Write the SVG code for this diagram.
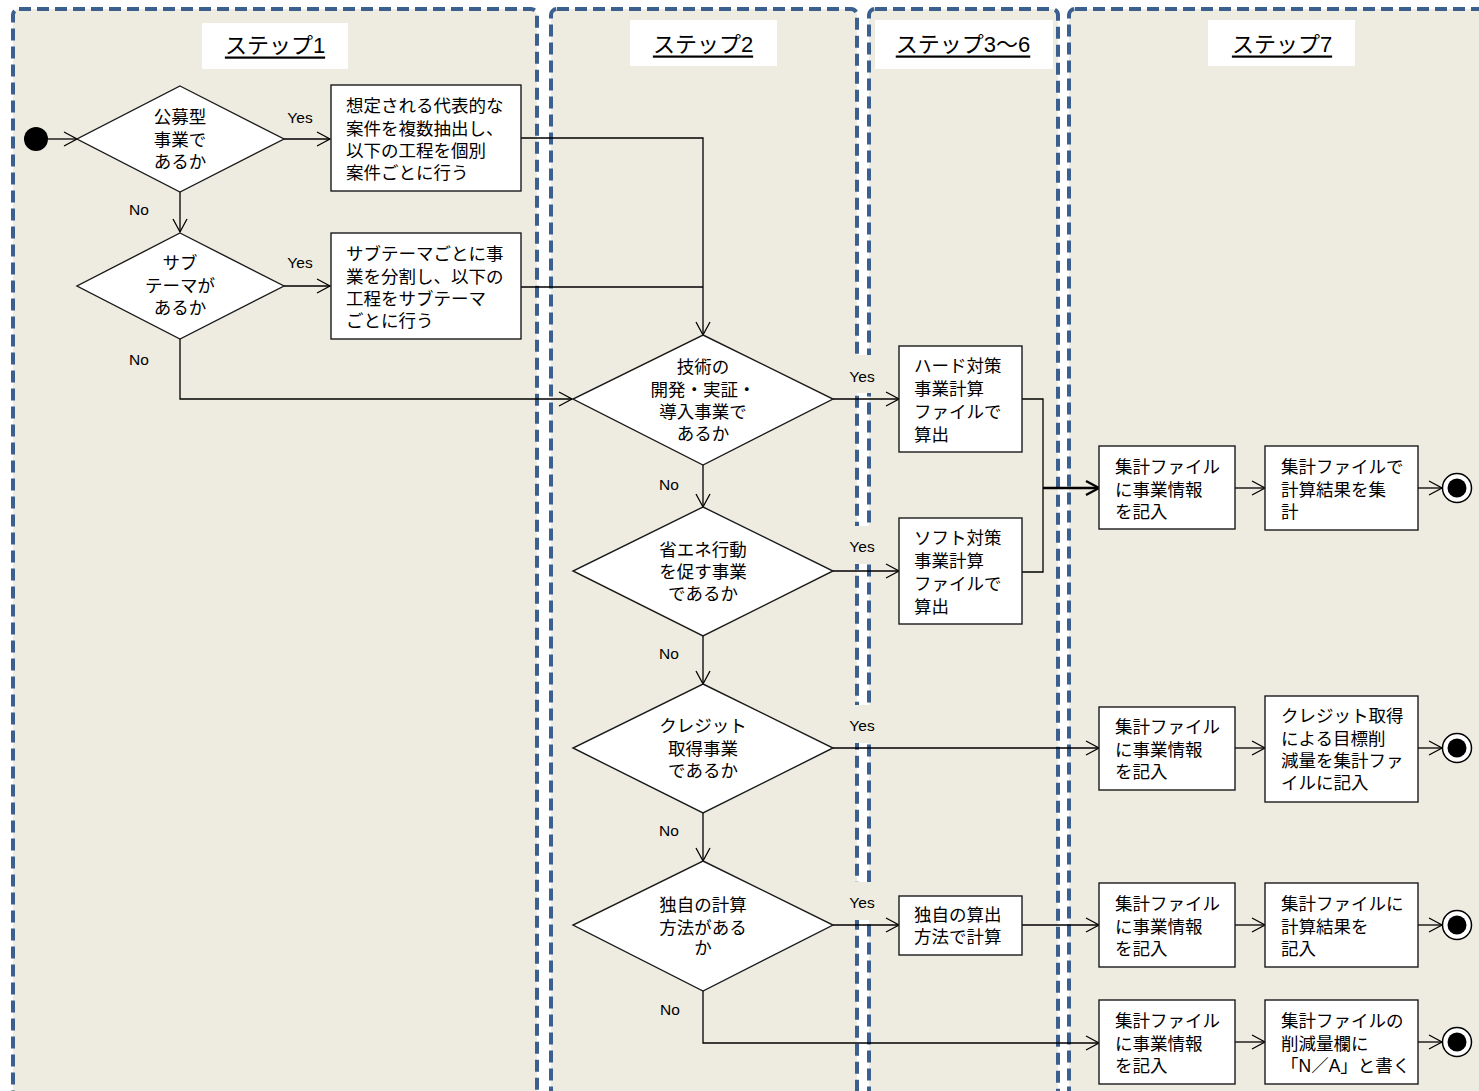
<svg xmlns="http://www.w3.org/2000/svg" width="1479" height="1091" viewBox="0 0 1479 1091">
  <defs>
    <style>
      .lane { fill:#EEECE1; stroke:#3B5F8F; stroke-width:4; stroke-dasharray:12 6; }
      .hdr { fill:#FFFFFF; }
      .ht { font-family:"Liberation Sans", "Noto Sans CJK JP", sans-serif; font-size:22px; fill:#000; text-anchor:middle; dominant-baseline:central; text-decoration:underline; }
      .node { fill:#FFFFFF; stroke:#1A1A1A; stroke-width:1.4; }
      .t { font-family:"Liberation Sans", "Noto Sans CJK JP", sans-serif; font-size:17.5px; fill:#000; dominant-baseline:central; }
      .m { text-anchor:middle; }
      .yn { font-family:"Liberation Sans", sans-serif; font-size:15.5px; fill:#000; text-anchor:middle; dominant-baseline:central; }
      .lbg { fill:#EEECE1; }
      .c { fill:none; stroke:#000; stroke-width:1.3; }
      .cb { fill:none; stroke:#000; stroke-width:2.4; }
    </style>
    <marker id="arr" viewBox="-2 -2 17 18" refX="13" refY="7" markerWidth="17" markerHeight="18" markerUnits="userSpaceOnUse" orient="auto">
      <path d="M0,0 L13,7 L0,14" fill="none" stroke="#000" stroke-width="1.3"/>
    </marker>
    <marker id="arrb" viewBox="-2 -2 17 18" refX="13" refY="7" markerWidth="17" markerHeight="18" markerUnits="userSpaceOnUse" orient="auto">
      <path d="M0,0 L13,7 L0,14" fill="none" stroke="#000" stroke-width="2.4"/>
    </marker>
  </defs>

  <rect x="0" y="0" width="1479" height="1091" fill="#FFFFFF"/>

  <g id="lanes">
    <rect class="lane" x="13" y="9" width="524" height="1110" rx="6"/>
    <rect class="lane" x="551" y="9" width="306" height="1110" rx="6"/>
    <rect class="lane" x="869" y="9" width="189" height="1110" rx="6"/>
    <rect class="lane" x="1069" y="9" width="450" height="1110" rx="6"/>
  </g>

  <g id="headers">
    <rect class="hdr" x="202" y="23" width="146" height="46"/>
    <text class="ht" x="275" y="45">ステップ1</text>
    <rect class="hdr" x="630" y="20" width="147" height="46"/>
    <text class="ht" x="703" y="44">ステップ2</text>
    <rect class="hdr" x="875" y="20" width="178" height="49"/>
    <text class="ht" x="963" y="44">ステップ3～6</text>
    <rect class="hdr" x="1208" y="20" width="147" height="46"/>
    <text class="ht" x="1282" y="44">ステップ7</text>
  </g>

  <g id="label-backgrounds">
    <rect class="lbg" x="843" y="355" width="38" height="38"/>
    <rect class="lbg" x="843" y="526" width="38" height="38"/>
    <rect class="lbg" x="843" y="705" width="38" height="38"/>
    <rect class="lbg" x="843" y="882" width="38" height="38"/>
  </g>

  <g id="connectors">
    <path class="c" d="M48,139 H77" marker-end="url(#arr)"/>
    <path class="c" d="M284,139 H330" marker-end="url(#arr)"/>
    <path class="c" d="M180,192 V232" marker-end="url(#arr)"/>
    <path class="c" d="M284,286 H330" marker-end="url(#arr)"/>
    <path class="c" d="M521,138 H703 V335" marker-end="url(#arr)"/>
    <path class="c" d="M521,287 H703"/>
    <path class="c" d="M180,339 V399 H572" marker-end="url(#arr)"/>
    <path class="c" d="M833,399 H899" marker-end="url(#arr)"/>
    <path class="c" d="M703,465 V507" marker-end="url(#arr)"/>
    <path class="c" d="M833,571 H899" marker-end="url(#arr)"/>
    <path class="c" d="M703,636 V684" marker-end="url(#arr)"/>
    <path class="c" d="M833,748 H1099" marker-end="url(#arr)"/>
    <path class="c" d="M703,813 V861" marker-end="url(#arr)"/>
    <path class="c" d="M833,925 H899" marker-end="url(#arr)"/>
    <path class="c" d="M703,991 V1043 H1099" marker-end="url(#arr)"/>
    <path class="c" d="M1022,399 H1043 V572 H1022"/>
    <path class="cb" d="M1043,488 H1099" marker-end="url(#arrb)"/>
    <path class="c" d="M1022,925 H1099" marker-end="url(#arr)"/>
    <path class="c" d="M1235,488 H1265" marker-end="url(#arr)"/>
    <path class="c" d="M1235,748 H1265" marker-end="url(#arr)"/>
    <path class="c" d="M1235,925 H1265" marker-end="url(#arr)"/>
    <path class="c" d="M1235,1042 H1265" marker-end="url(#arr)"/>
    <path class="c" d="M1418,488 H1442" marker-end="url(#arr)"/>
    <path class="c" d="M1418,748 H1442" marker-end="url(#arr)"/>
    <path class="c" d="M1418,925 H1442" marker-end="url(#arr)"/>
    <path class="c" d="M1418,1042 H1442" marker-end="url(#arr)"/>
  </g>

  <g id="start">
    <circle cx="36" cy="139" r="12" fill="#000"/>
  </g>

  <g id="d-koubo">
    <polygon class="node" points="180,86 284,139 180,192 77,139"/>
    <text class="t m" x="180" y="117">公募型</text>
    <text class="t m" x="180" y="140">事業で</text>
    <text class="t m" x="180" y="162">あるか</text>
  </g>

  <g id="b-daihyou">
    <rect class="node" x="331" y="85" width="190" height="106"/>
    <text class="t" x="346" y="106">想定される代表的な</text>
    <text class="t" x="346" y="129">案件を複数抽出し、</text>
    <text class="t" x="346" y="151">以下の工程を個別</text>
    <text class="t" x="346" y="173">案件ごとに行う</text>
  </g>

  <g id="d-subtheme">
    <polygon class="node" points="180,233 284,286 180,339 77,286"/>
    <text class="t m" x="180" y="263">サブ</text>
    <text class="t m" x="180" y="286">テーマが</text>
    <text class="t m" x="180" y="308">あるか</text>
  </g>

  <g id="b-subtheme">
    <rect class="node" x="331" y="233" width="190" height="106"/>
    <text class="t" x="346" y="254">サブテーマごとに事</text>
    <text class="t" x="346" y="277">業を分割し、以下の</text>
    <text class="t" x="346" y="299">工程をサブテーマ</text>
    <text class="t" x="346" y="321">ごとに行う</text>
  </g>

  <g id="d-gijutsu">
    <polygon class="node" points="703,335 833,399 703,465 573,399"/>
    <text class="t m" x="703" y="367">技術の</text>
    <text class="t m" x="703" y="390">開発・実証・</text>
    <text class="t m" x="703" y="412">導入事業で</text>
    <text class="t m" x="703" y="434">あるか</text>
  </g>

  <g id="d-shoene">
    <polygon class="node" points="703,507 833,571 703,636 573,571"/>
    <text class="t m" x="703" y="550">省エネ行動</text>
    <text class="t m" x="703" y="572">を促す事業</text>
    <text class="t m" x="703" y="594">であるか</text>
  </g>

  <g id="d-credit">
    <polygon class="node" points="703,684 833,748 703,813 573,748"/>
    <text class="t m" x="703" y="726">クレジット</text>
    <text class="t m" x="703" y="749">取得事業</text>
    <text class="t m" x="703" y="771">であるか</text>
  </g>

  <g id="d-dokuji">
    <polygon class="node" points="703,861 833,925 703,991 573,925"/>
    <text class="t m" x="703" y="905">独自の計算</text>
    <text class="t m" x="703" y="928">方法がある</text>
    <text class="t m" x="703" y="948">か</text>
  </g>

  <g id="b-hard">
    <rect class="node" x="899" y="346" width="123" height="106"/>
    <text class="t" x="914" y="366">ハード対策</text>
    <text class="t" x="914" y="389">事業計算</text>
    <text class="t" x="914" y="412">ファイルで</text>
    <text class="t" x="914" y="435">算出</text>
  </g>

  <g id="b-soft">
    <rect class="node" x="899" y="518" width="123" height="106"/>
    <text class="t" x="914" y="538">ソフト対策</text>
    <text class="t" x="914" y="561">事業計算</text>
    <text class="t" x="914" y="584">ファイルで</text>
    <text class="t" x="914" y="607">算出</text>
  </g>

  <g id="b-dokuji">
    <rect class="node" x="899" y="896" width="123" height="59"/>
    <text class="t" x="914" y="915">独自の算出</text>
    <text class="t" x="914" y="937">方法で計算</text>
  </g>

  <g id="b-kiroku1">
    <rect class="node" x="1099" y="446" width="136" height="83"/>
    <text class="t" x="1115" y="467">集計ファイル</text>
    <text class="t" x="1115" y="490">に事業情報</text>
    <text class="t" x="1115" y="512">を記入</text>
  </g>
  <g id="b-shukei1">
    <rect class="node" x="1265" y="446" width="153" height="84"/>
    <text class="t" x="1281" y="467">集計ファイルで</text>
    <text class="t" x="1281" y="490">計算結果を集</text>
    <text class="t" x="1281" y="512">計</text>
  </g>
  <g id="end1">
    <circle cx="1457" cy="488" r="14.5" fill="#FFF" stroke="#000" stroke-width="1.5"/>
    <circle cx="1457" cy="488" r="9.5" fill="#000"/>
  </g>

  <g id="b-kiroku2">
    <rect class="node" x="1099" y="707" width="136" height="83"/>
    <text class="t" x="1115" y="727">集計ファイル</text>
    <text class="t" x="1115" y="750">に事業情報</text>
    <text class="t" x="1115" y="772">を記入</text>
  </g>
  <g id="b-shukei2">
    <rect class="node" x="1265" y="696" width="153" height="106"/>
    <text class="t" x="1281" y="716">クレジット取得</text>
    <text class="t" x="1281" y="739">による目標削</text>
    <text class="t" x="1281" y="761">減量を集計ファ</text>
    <text class="t" x="1281" y="783">イルに記入</text>
  </g>
  <g id="end2">
    <circle cx="1457" cy="748" r="14.5" fill="#FFF" stroke="#000" stroke-width="1.5"/>
    <circle cx="1457" cy="748" r="9.5" fill="#000"/>
  </g>

  <g id="b-kiroku3">
    <rect class="node" x="1099" y="883" width="136" height="84"/>
    <text class="t" x="1115" y="904">集計ファイル</text>
    <text class="t" x="1115" y="927">に事業情報</text>
    <text class="t" x="1115" y="949">を記入</text>
  </g>
  <g id="b-shukei3">
    <rect class="node" x="1265" y="883" width="153" height="84"/>
    <text class="t" x="1281" y="904">集計ファイルに</text>
    <text class="t" x="1281" y="927">計算結果を</text>
    <text class="t" x="1281" y="949">記入</text>
  </g>
  <g id="end3">
    <circle cx="1457" cy="925" r="14.5" fill="#FFF" stroke="#000" stroke-width="1.5"/>
    <circle cx="1457" cy="925" r="9.5" fill="#000"/>
  </g>

  <g id="b-kiroku4">
    <rect class="node" x="1099" y="1000" width="136" height="84"/>
    <text class="t" x="1115" y="1021">集計ファイル</text>
    <text class="t" x="1115" y="1044">に事業情報</text>
    <text class="t" x="1115" y="1066">を記入</text>
  </g>
  <g id="b-shukei4">
    <rect class="node" x="1265" y="1000" width="153" height="84"/>
    <text class="t" x="1281" y="1021">集計ファイルの</text>
    <text class="t" x="1281" y="1044">削減量欄に</text>
    <text class="t" x="1281" y="1066">「N／A」と書く</text>
  </g>
  <g id="end4">
    <circle cx="1457" cy="1042" r="14.5" fill="#FFF" stroke="#000" stroke-width="1.5"/>
    <circle cx="1457" cy="1042" r="9.5" fill="#000"/>
  </g>

  <g id="edge-labels">
    <text class="yn" x="300" y="117">Yes</text>
    <text class="yn" x="139" y="209">No</text>
    <text class="yn" x="300" y="262">Yes</text>
    <text class="yn" x="139" y="359">No</text>
    <text class="yn" x="862" y="376">Yes</text>
    <text class="yn" x="669" y="484">No</text>
    <text class="yn" x="862" y="546">Yes</text>
    <text class="yn" x="669" y="653">No</text>
    <text class="yn" x="862" y="725">Yes</text>
    <text class="yn" x="669" y="830">No</text>
    <text class="yn" x="862" y="902">Yes</text>
    <text class="yn" x="670" y="1009">No</text>
  </g>
</svg>
